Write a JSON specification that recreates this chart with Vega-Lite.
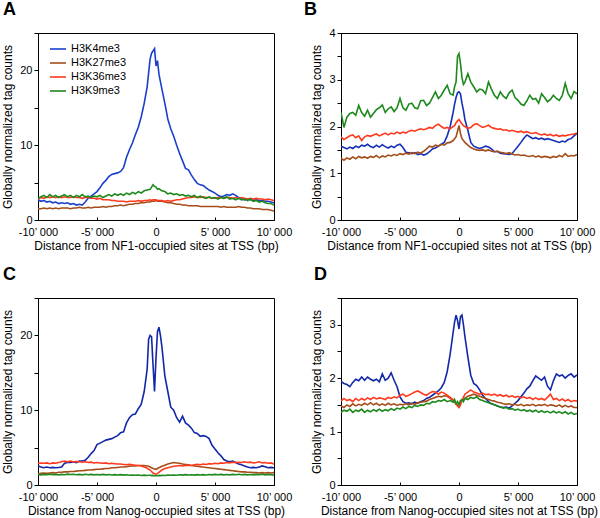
{
"$schema":"https://vega.github.io/schema/vega-lite/v6.json",
"padding":{"left":1,"top":0,"right":5,"bottom":5},
"background":"white",
"config":{
 "font":"Liberation Sans",
 "view":{"stroke":"black","strokeWidth":1},
 "axis":{"grid":false,"domainColor":"black","tickColor":"black","tickSize":4,"labelColor":"black","labelFont":"Liberation Sans","labelFontSize":11,"labelFlush":false,"labelOverlap":false,"labelPadding":2,"titleFont":"Liberation Sans","titleFontSize":12,"titleFontWeight":"normal","titleColor":"black","titlePadding":5},
 "axisX":{"tickSize":-3,"labelPadding":9,"titlePadding":3},
 "title":{"font":"Liberation Sans","fontSize":18,"fontWeight":"bold","color":"black","anchor":"start","frame":"group"},
 "line":{"strokeWidth":1.6}
},
"datasets":{
"A":[
{"x":-10000,"H3K4me3":2.7,"H3K27me3":1.5,"H3K36me3":2.8,"H3K9me3":2.9},
{"x":-9750,"H3K4me3":2.5,"H3K27me3":1.5,"H3K36me3":3.0,"H3K9me3":3.1},
{"x":-9500,"H3K4me3":2.6,"H3K27me3":1.6,"H3K36me3":2.9,"H3K9me3":3.3},
{"x":-9250,"H3K4me3":2.4,"H3K27me3":1.5,"H3K36me3":3.1,"H3K9me3":3.0},
{"x":-9000,"H3K4me3":2.5,"H3K27me3":1.6,"H3K36me3":3.0,"H3K9me3":3.4},
{"x":-8750,"H3K4me3":2.3,"H3K27me3":1.5,"H3K36me3":3.1,"H3K9me3":3.1},
{"x":-8500,"H3K4me3":2.4,"H3K27me3":1.6,"H3K36me3":3.0,"H3K9me3":3.3},
{"x":-8250,"H3K4me3":2.2,"H3K27me3":1.5,"H3K36me3":3.1,"H3K9me3":3.0},
{"x":-8000,"H3K4me3":2.3,"H3K27me3":1.6,"H3K36me3":3.0,"H3K9me3":3.2},
{"x":-7750,"H3K4me3":2.2,"H3K27me3":1.6,"H3K36me3":3.1,"H3K9me3":3.4},
{"x":-7500,"H3K4me3":2.3,"H3K27me3":1.6,"H3K36me3":3.0,"H3K9me3":3.1},
{"x":-7250,"H3K4me3":2.1,"H3K27me3":1.5,"H3K36me3":3.0,"H3K9me3":3.3},
{"x":-7000,"H3K4me3":2.2,"H3K27me3":1.6,"H3K36me3":3.1,"H3K9me3":3.0},
{"x":-6750,"H3K4me3":2.0,"H3K27me3":1.6,"H3K36me3":3.0,"H3K9me3":3.3},
{"x":-6500,"H3K4me3":2.1,"H3K27me3":1.7,"H3K36me3":3.0,"H3K9me3":3.1},
{"x":-6250,"H3K4me3":2.0,"H3K27me3":1.6,"H3K36me3":2.9,"H3K9me3":3.4},
{"x":-6000,"H3K4me3":2.4,"H3K27me3":1.6,"H3K36me3":3.0,"H3K9me3":3.1},
{"x":-5750,"H3K4me3":2.9,"H3K27me3":1.7,"H3K36me3":3.0,"H3K9me3":3.2},
{"x":-5500,"H3K4me3":3.2,"H3K27me3":1.6,"H3K36me3":2.9,"H3K9me3":3.0},
{"x":-5250,"H3K4me3":3.5,"H3K27me3":1.7,"H3K36me3":2.9,"H3K9me3":3.2},
{"x":-5000,"H3K4me3":3.8,"H3K27me3":1.7,"H3K36me3":2.8,"H3K9me3":3.1},
{"x":-4750,"H3K4me3":4.3,"H3K27me3":1.7,"H3K36me3":2.9,"H3K9me3":3.3},
{"x":-4500,"H3K4me3":4.9,"H3K27me3":1.8,"H3K36me3":2.7,"H3K9me3":3.0},
{"x":-4250,"H3K4me3":5.3,"H3K27me3":1.7,"H3K36me3":2.7,"H3K9me3":3.2},
{"x":-4000,"H3K4me3":5.8,"H3K27me3":1.8,"H3K36me3":2.7,"H3K9me3":3.4},
{"x":-3750,"H3K4me3":6.1,"H3K27me3":1.8,"H3K36me3":2.6,"H3K9me3":3.2},
{"x":-3500,"H3K4me3":6.2,"H3K27me3":1.9,"H3K36me3":2.6,"H3K9me3":3.5},
{"x":-3250,"H3K4me3":6.3,"H3K27me3":1.9,"H3K36me3":2.5,"H3K9me3":3.3},
{"x":-3000,"H3K4me3":6.5,"H3K27me3":2.0,"H3K36me3":2.5,"H3K9me3":3.5},
{"x":-2750,"H3K4me3":7.0,"H3K27me3":1.9,"H3K36me3":2.5,"H3K9me3":3.3},
{"x":-2500,"H3K4me3":8.4,"H3K27me3":2.0,"H3K36me3":2.4,"H3K9me3":3.6},
{"x":-2250,"H3K4me3":9.4,"H3K27me3":2.1,"H3K36me3":2.5,"H3K9me3":3.4},
{"x":-2000,"H3K4me3":10.3,"H3K27me3":2.1,"H3K36me3":2.5,"H3K9me3":3.7},
{"x":-1750,"H3K4me3":11.4,"H3K27me3":2.2,"H3K36me3":2.5,"H3K9me3":3.5},
{"x":-1500,"H3K4me3":12.4,"H3K27me3":2.2,"H3K36me3":2.6,"H3K9me3":3.8},
{"x":-1250,"H3K4me3":13.8,"H3K27me3":2.3,"H3K36me3":2.5,"H3K9me3":3.6},
{"x":-1000,"H3K4me3":15.6,"H3K27me3":2.3,"H3K36me3":2.6,"H3K9me3":3.9},
{"x":-750,"H3K4me3":17.8,"H3K27me3":2.4,"H3K36me3":2.6,"H3K9me3":4.0},
{"x":-500,"H3K4me3":21.5,"H3K27me3":2.4,"H3K36me3":2.7,"H3K9me3":4.1},
{"x":-375,"H3K4me3":22.3,"H3K27me3":2.5,"H3K36me3":2.6,"H3K9me3":4.4},
{"x":-250,"H3K4me3":22.6,"H3K27me3":2.5,"H3K36me3":2.7,"H3K9me3":4.7},
{"x":-125,"H3K4me3":22.9,"H3K27me3":2.5,"H3K36me3":2.7,"H3K9me3":4.5},
{"x":0,"H3K4me3":20.6,"H3K27me3":2.6,"H3K36me3":2.7,"H3K9me3":4.4},
{"x":125,"H3K4me3":21.3,"H3K27me3":2.5,"H3K36me3":2.6,"H3K9me3":4.1},
{"x":250,"H3K4me3":19.5,"H3K27me3":2.5,"H3K36me3":2.6,"H3K9me3":4.2},
{"x":500,"H3K4me3":17.5,"H3K27me3":2.5,"H3K36me3":2.6,"H3K9me3":3.9},
{"x":750,"H3K4me3":15.6,"H3K27me3":2.4,"H3K36me3":2.5,"H3K9me3":3.8},
{"x":1000,"H3K4me3":13.5,"H3K27me3":2.3,"H3K36me3":2.6,"H3K9me3":3.5},
{"x":1250,"H3K4me3":12.2,"H3K27me3":2.3,"H3K36me3":2.5,"H3K9me3":3.6},
{"x":1500,"H3K4me3":11.2,"H3K27me3":2.2,"H3K36me3":2.6,"H3K9me3":3.4},
{"x":1750,"H3K4me3":10.0,"H3K27me3":2.1,"H3K36me3":2.7,"H3K9me3":3.5},
{"x":2000,"H3K4me3":8.9,"H3K27me3":2.1,"H3K36me3":2.7,"H3K9me3":3.3},
{"x":2250,"H3K4me3":7.9,"H3K27me3":2.0,"H3K36me3":2.8,"H3K9me3":3.4},
{"x":2500,"H3K4me3":6.9,"H3K27me3":2.0,"H3K36me3":2.9,"H3K9me3":3.2},
{"x":2750,"H3K4me3":6.7,"H3K27me3":1.9,"H3K36me3":3.0,"H3K9me3":3.3},
{"x":3000,"H3K4me3":6.0,"H3K27me3":1.9,"H3K36me3":3.0,"H3K9me3":3.1},
{"x":3250,"H3K4me3":5.4,"H3K27me3":1.9,"H3K36me3":3.1,"H3K9me3":3.3},
{"x":3500,"H3K4me3":4.9,"H3K27me3":1.9,"H3K36me3":3.0,"H3K9me3":3.0},
{"x":3750,"H3K4me3":4.7,"H3K27me3":1.8,"H3K36me3":3.0,"H3K9me3":3.2},
{"x":4000,"H3K4me3":4.6,"H3K27me3":1.8,"H3K36me3":3.1,"H3K9me3":3.0},
{"x":4250,"H3K4me3":4.3,"H3K27me3":1.8,"H3K36me3":3.0,"H3K9me3":2.9},
{"x":4500,"H3K4me3":4.0,"H3K27me3":1.8,"H3K36me3":3.0,"H3K9me3":3.1},
{"x":4750,"H3K4me3":3.8,"H3K27me3":1.8,"H3K36me3":2.9,"H3K9me3":2.9},
{"x":5000,"H3K4me3":3.6,"H3K27me3":1.8,"H3K36me3":2.9,"H3K9me3":3.0},
{"x":5250,"H3K4me3":3.3,"H3K27me3":1.8,"H3K36me3":3.0,"H3K9me3":2.8},
{"x":5500,"H3K4me3":3.1,"H3K27me3":1.7,"H3K36me3":3.0,"H3K9me3":3.0},
{"x":5750,"H3K4me3":3.2,"H3K27me3":1.8,"H3K36me3":2.9,"H3K9me3":2.9},
{"x":6000,"H3K4me3":3.4,"H3K27me3":1.7,"H3K36me3":3.0,"H3K9me3":3.1},
{"x":6250,"H3K4me3":3.3,"H3K27me3":1.7,"H3K36me3":3.0,"H3K9me3":2.8},
{"x":6500,"H3K4me3":3.5,"H3K27me3":1.7,"H3K36me3":2.9,"H3K9me3":2.9},
{"x":6750,"H3K4me3":3.3,"H3K27me3":1.7,"H3K36me3":3.0,"H3K9me3":2.7},
{"x":7000,"H3K4me3":3.0,"H3K27me3":1.8,"H3K36me3":2.9,"H3K9me3":2.9},
{"x":7250,"H3K4me3":2.8,"H3K27me3":1.7,"H3K36me3":3.0,"H3K9me3":2.7},
{"x":7500,"H3K4me3":2.7,"H3K27me3":1.7,"H3K36me3":2.9,"H3K9me3":2.8},
{"x":7750,"H3K4me3":2.8,"H3K27me3":1.6,"H3K36me3":2.8,"H3K9me3":2.6},
{"x":8000,"H3K4me3":2.7,"H3K27me3":1.6,"H3K36me3":2.9,"H3K9me3":2.8},
{"x":8250,"H3K4me3":2.6,"H3K27me3":1.5,"H3K36me3":2.8,"H3K9me3":2.5},
{"x":8500,"H3K4me3":2.7,"H3K27me3":1.5,"H3K36me3":2.9,"H3K9me3":2.6},
{"x":8750,"H3K4me3":2.6,"H3K27me3":1.5,"H3K36me3":2.8,"H3K9me3":2.4},
{"x":9000,"H3K4me3":2.6,"H3K27me3":1.4,"H3K36me3":2.8,"H3K9me3":2.5},
{"x":9250,"H3K4me3":2.5,"H3K27me3":1.4,"H3K36me3":2.7,"H3K9me3":2.3},
{"x":9500,"H3K4me3":2.5,"H3K27me3":1.4,"H3K36me3":2.8,"H3K9me3":2.2},
{"x":9750,"H3K4me3":2.4,"H3K27me3":1.3,"H3K36me3":2.7,"H3K9me3":2.2},
{"x":10000,"H3K4me3":2.3,"H3K27me3":1.2,"H3K36me3":2.6,"H3K9me3":2.0}
],
"B":[
{"x":-10000,"H3K4me3":1.58,"H3K27me3":1.32,"H3K36me3":1.78,"H3K9me3":2.30},
{"x":-9750,"H3K4me3":1.55,"H3K27me3":1.28,"H3K36me3":1.72,"H3K9me3":1.98},
{"x":-9500,"H3K4me3":1.52,"H3K27me3":1.33,"H3K36me3":1.76,"H3K9me3":2.20},
{"x":-9250,"H3K4me3":1.56,"H3K27me3":1.30,"H3K36me3":1.80,"H3K9me3":2.28},
{"x":-9000,"H3K4me3":1.53,"H3K27me3":1.35,"H3K36me3":1.82,"H3K9me3":2.30},
{"x":-8750,"H3K4me3":1.58,"H3K27me3":1.31,"H3K36me3":1.76,"H3K9me3":2.24},
{"x":-8500,"H3K4me3":1.55,"H3K27me3":1.36,"H3K36me3":1.80,"H3K9me3":2.45},
{"x":-8250,"H3K4me3":1.60,"H3K27me3":1.33,"H3K36me3":1.70,"H3K9me3":2.30},
{"x":-8000,"H3K4me3":1.58,"H3K27me3":1.35,"H3K36me3":1.78,"H3K9me3":2.22},
{"x":-7750,"H3K4me3":1.62,"H3K27me3":1.32,"H3K36me3":1.81,"H3K9me3":2.35},
{"x":-7500,"H3K4me3":1.57,"H3K27me3":1.36,"H3K36me3":1.79,"H3K9me3":2.20},
{"x":-7250,"H3K4me3":1.55,"H3K27me3":1.34,"H3K36me3":1.82,"H3K9me3":2.28},
{"x":-7000,"H3K4me3":1.60,"H3K27me3":1.38,"H3K36me3":1.84,"H3K9me3":2.36},
{"x":-6750,"H3K4me3":1.56,"H3K27me3":1.33,"H3K36me3":1.80,"H3K9me3":2.40},
{"x":-6500,"H3K4me3":1.61,"H3K27me3":1.37,"H3K36me3":1.83,"H3K9me3":2.46},
{"x":-6250,"H3K4me3":1.57,"H3K27me3":1.35,"H3K36me3":1.86,"H3K9me3":2.30},
{"x":-6000,"H3K4me3":1.54,"H3K27me3":1.39,"H3K36me3":1.82,"H3K9me3":2.38},
{"x":-5750,"H3K4me3":1.58,"H3K27me3":1.37,"H3K36me3":1.86,"H3K9me3":2.42},
{"x":-5500,"H3K4me3":1.55,"H3K27me3":1.40,"H3K36me3":1.84,"H3K9me3":2.32},
{"x":-5250,"H3K4me3":1.60,"H3K27me3":1.38,"H3K36me3":1.88,"H3K9me3":2.40},
{"x":-5000,"H3K4me3":1.62,"H3K27me3":1.42,"H3K36me3":1.85,"H3K9me3":2.60},
{"x":-4750,"H3K4me3":1.55,"H3K27me3":1.40,"H3K36me3":1.88,"H3K9me3":2.40},
{"x":-4500,"H3K4me3":1.45,"H3K27me3":1.43,"H3K36me3":1.86,"H3K9me3":2.35},
{"x":-4250,"H3K4me3":1.44,"H3K27me3":1.41,"H3K36me3":1.90,"H3K9me3":2.48},
{"x":-4000,"H3K4me3":1.42,"H3K27me3":1.44,"H3K36me3":1.92,"H3K9me3":2.50},
{"x":-3750,"H3K4me3":1.44,"H3K27me3":1.42,"H3K36me3":1.90,"H3K9me3":2.40},
{"x":-3500,"H3K4me3":1.40,"H3K27me3":1.45,"H3K36me3":1.93,"H3K9me3":2.38},
{"x":-3250,"H3K4me3":1.42,"H3K27me3":1.43,"H3K36me3":1.95,"H3K9me3":2.55},
{"x":-3000,"H3K4me3":1.39,"H3K27me3":1.47,"H3K36me3":1.93,"H3K9me3":2.56},
{"x":-2750,"H3K4me3":1.41,"H3K27me3":1.52,"H3K36me3":1.95,"H3K9me3":2.45},
{"x":-2500,"H3K4me3":1.46,"H3K27me3":1.58,"H3K36me3":1.98,"H3K9me3":2.50},
{"x":-2250,"H3K4me3":1.52,"H3K27me3":1.56,"H3K36me3":1.96,"H3K9me3":2.62},
{"x":-2000,"H3K4me3":1.54,"H3K27me3":1.60,"H3K36me3":2.02,"H3K9me3":2.74},
{"x":-1750,"H3K4me3":1.58,"H3K27me3":1.58,"H3K36me3":2.05,"H3K9me3":2.60},
{"x":-1500,"H3K4me3":1.62,"H3K27me3":1.62,"H3K36me3":2.00,"H3K9me3":2.67},
{"x":-1250,"H3K4me3":1.66,"H3K27me3":1.60,"H3K36me3":1.96,"H3K9me3":2.78},
{"x":-1000,"H3K4me3":1.80,"H3K27me3":1.65,"H3K36me3":1.98,"H3K9me3":2.88},
{"x":-750,"H3K4me3":2.00,"H3K27me3":1.66,"H3K36me3":1.95,"H3K9me3":2.70},
{"x":-500,"H3K4me3":2.30,"H3K27me3":1.70,"H3K36me3":2.00,"H3K9me3":2.67},
{"x":-375,"H3K4me3":2.48,"H3K27me3":1.74,"H3K36me3":2.02,"H3K9me3":2.85},
{"x":-250,"H3K4me3":2.62,"H3K27me3":1.78,"H3K36me3":2.08,"H3K9me3":2.95},
{"x":-125,"H3K4me3":2.72,"H3K27me3":1.90,"H3K36me3":2.12,"H3K9me3":3.50},
{"x":0,"H3K4me3":2.74,"H3K27me3":2.02,"H3K36me3":2.15,"H3K9me3":3.56},
{"x":125,"H3K4me3":2.70,"H3K27me3":1.85,"H3K36me3":2.10,"H3K9me3":3.35},
{"x":250,"H3K4me3":2.50,"H3K27me3":1.74,"H3K36me3":2.06,"H3K9me3":3.05},
{"x":375,"H3K4me3":2.35,"H3K27me3":1.70,"H3K36me3":2.02,"H3K9me3":2.90},
{"x":500,"H3K4me3":2.15,"H3K27me3":1.66,"H3K36me3":2.00,"H3K9me3":2.95},
{"x":750,"H3K4me3":1.92,"H3K27me3":1.60,"H3K36me3":1.96,"H3K9me3":3.13},
{"x":1000,"H3K4me3":1.66,"H3K27me3":1.55,"H3K36me3":1.98,"H3K9me3":2.95},
{"x":1250,"H3K4me3":1.58,"H3K27me3":1.52,"H3K36me3":2.04,"H3K9me3":2.85},
{"x":1500,"H3K4me3":1.55,"H3K27me3":1.50,"H3K36me3":2.06,"H3K9me3":2.74},
{"x":1750,"H3K4me3":1.53,"H3K27me3":1.49,"H3K36me3":2.02,"H3K9me3":2.80},
{"x":2000,"H3K4me3":1.55,"H3K27me3":1.50,"H3K36me3":1.98,"H3K9me3":2.78},
{"x":2250,"H3K4me3":1.58,"H3K27me3":1.48,"H3K36me3":2.00,"H3K9me3":2.70},
{"x":2500,"H3K4me3":1.56,"H3K27me3":1.50,"H3K36me3":2.03,"H3K9me3":2.95},
{"x":2750,"H3K4me3":1.52,"H3K27me3":1.47,"H3K36me3":1.98,"H3K9me3":2.80},
{"x":3000,"H3K4me3":1.46,"H3K27me3":1.46,"H3K36me3":1.96,"H3K9me3":2.67},
{"x":3250,"H3K4me3":1.47,"H3K27me3":1.47,"H3K36me3":1.94,"H3K9me3":2.60},
{"x":3500,"H3K4me3":1.43,"H3K27me3":1.45,"H3K36me3":1.95,"H3K9me3":2.74},
{"x":3750,"H3K4me3":1.42,"H3K27me3":1.44,"H3K36me3":1.92,"H3K9me3":2.65},
{"x":4000,"H3K4me3":1.41,"H3K27me3":1.42,"H3K36me3":1.93,"H3K9me3":2.60},
{"x":4250,"H3K4me3":1.40,"H3K27me3":1.44,"H3K36me3":1.90,"H3K9me3":2.72},
{"x":4500,"H3K4me3":1.42,"H3K27me3":1.41,"H3K36me3":1.92,"H3K9me3":2.78},
{"x":4750,"H3K4me3":1.50,"H3K27me3":1.39,"H3K36me3":1.90,"H3K9me3":2.62},
{"x":5000,"H3K4me3":1.58,"H3K27me3":1.40,"H3K36me3":1.88,"H3K9me3":2.56},
{"x":5250,"H3K4me3":1.66,"H3K27me3":1.38,"H3K36me3":1.90,"H3K9me3":2.48},
{"x":5500,"H3K4me3":1.75,"H3K27me3":1.39,"H3K36me3":1.87,"H3K9me3":2.45},
{"x":5750,"H3K4me3":1.82,"H3K27me3":1.37,"H3K36me3":1.89,"H3K9me3":2.55},
{"x":6000,"H3K4me3":1.78,"H3K27me3":1.36,"H3K36me3":1.86,"H3K9me3":2.67},
{"x":6250,"H3K4me3":1.74,"H3K27me3":1.38,"H3K36me3":1.85,"H3K9me3":2.58},
{"x":6500,"H3K4me3":1.76,"H3K27me3":1.35,"H3K36me3":1.87,"H3K9me3":2.60},
{"x":6750,"H3K4me3":1.73,"H3K27me3":1.37,"H3K36me3":1.84,"H3K9me3":2.50},
{"x":7000,"H3K4me3":1.75,"H3K27me3":1.34,"H3K36me3":1.82,"H3K9me3":2.70},
{"x":7250,"H3K4me3":1.72,"H3K27me3":1.36,"H3K36me3":1.84,"H3K9me3":2.62},
{"x":7500,"H3K4me3":1.74,"H3K27me3":1.35,"H3K36me3":1.81,"H3K9me3":2.53},
{"x":7750,"H3K4me3":1.72,"H3K27me3":1.33,"H3K36me3":1.83,"H3K9me3":2.58},
{"x":8000,"H3K4me3":1.70,"H3K27me3":1.36,"H3K36me3":1.80,"H3K9me3":2.67},
{"x":8250,"H3K4me3":1.68,"H3K27me3":1.34,"H3K36me3":1.82,"H3K9me3":2.60},
{"x":8500,"H3K4me3":1.66,"H3K27me3":1.38,"H3K36me3":1.79,"H3K9me3":2.56},
{"x":8750,"H3K4me3":1.69,"H3K27me3":1.35,"H3K36me3":1.81,"H3K9me3":2.66},
{"x":9000,"H3K4me3":1.67,"H3K27me3":1.42,"H3K36me3":1.80,"H3K9me3":2.92},
{"x":9250,"H3K4me3":1.72,"H3K27me3":1.36,"H3K36me3":1.82,"H3K9me3":2.70},
{"x":9500,"H3K4me3":1.74,"H3K27me3":1.38,"H3K36me3":1.83,"H3K9me3":2.60},
{"x":9750,"H3K4me3":1.80,"H3K27me3":1.37,"H3K36me3":1.84,"H3K9me3":2.75},
{"x":10000,"H3K4me3":1.85,"H3K27me3":1.40,"H3K36me3":1.86,"H3K9me3":2.70}
],
"C":[
{"x":-10000,"H3K4me3":2.55,"H3K27me3":1.45,"H3K36me3":2.9,"H3K9me3":1.40},
{"x":-9750,"H3K4me3":2.4,"H3K27me3":1.55,"H3K36me3":2.95,"H3K9me3":1.35},
{"x":-9500,"H3K4me3":2.3,"H3K27me3":1.6,"H3K36me3":2.9,"H3K9me3":1.42},
{"x":-9250,"H3K4me3":2.4,"H3K27me3":1.55,"H3K36me3":2.95,"H3K9me3":1.38},
{"x":-9000,"H3K4me3":2.3,"H3K27me3":1.6,"H3K36me3":2.85,"H3K9me3":1.45},
{"x":-8750,"H3K4me3":2.35,"H3K27me3":1.65,"H3K36me3":2.95,"H3K9me3":1.38},
{"x":-8500,"H3K4me3":2.3,"H3K27me3":1.6,"H3K36me3":2.9,"H3K9me3":1.42},
{"x":-8250,"H3K4me3":2.35,"H3K27me3":1.7,"H3K36me3":3.0,"H3K9me3":1.36},
{"x":-8000,"H3K4me3":2.4,"H3K27me3":1.7,"H3K36me3":3.1,"H3K9me3":1.42},
{"x":-7750,"H3K4me3":2.9,"H3K27me3":1.75,"H3K36me3":3.2,"H3K9me3":1.38},
{"x":-7500,"H3K4me3":3.0,"H3K27me3":1.75,"H3K36me3":3.1,"H3K9me3":1.45},
{"x":-7250,"H3K4me3":3.0,"H3K27me3":1.8,"H3K36me3":3.2,"H3K9me3":1.40},
{"x":-7000,"H3K4me3":3.1,"H3K27me3":1.8,"H3K36me3":3.1,"H3K9me3":1.44},
{"x":-6750,"H3K4me3":3.0,"H3K27me3":1.85,"H3K36me3":3.15,"H3K9me3":1.38},
{"x":-6500,"H3K4me3":3.2,"H3K27me3":1.9,"H3K36me3":3.1,"H3K9me3":1.42},
{"x":-6250,"H3K4me3":3.2,"H3K27me3":1.9,"H3K36me3":3.05,"H3K9me3":1.36},
{"x":-6000,"H3K4me3":3.3,"H3K27me3":1.95,"H3K36me3":3.1,"H3K9me3":1.44},
{"x":-5750,"H3K4me3":3.7,"H3K27me3":2.0,"H3K36me3":3.0,"H3K9me3":1.38},
{"x":-5500,"H3K4me3":4.2,"H3K27me3":2.0,"H3K36me3":3.05,"H3K9me3":1.42},
{"x":-5250,"H3K4me3":4.6,"H3K27me3":2.05,"H3K36me3":2.95,"H3K9me3":1.36},
{"x":-5000,"H3K4me3":5.4,"H3K27me3":2.1,"H3K36me3":3.0,"H3K9me3":1.40},
{"x":-4750,"H3K4me3":5.6,"H3K27me3":2.1,"H3K36me3":2.95,"H3K9me3":1.36},
{"x":-4500,"H3K4me3":5.8,"H3K27me3":2.15,"H3K36me3":2.9,"H3K9me3":1.42},
{"x":-4250,"H3K4me3":6.0,"H3K27me3":2.2,"H3K36me3":2.95,"H3K9me3":1.36},
{"x":-4000,"H3K4me3":6.1,"H3K27me3":2.2,"H3K36me3":2.85,"H3K9me3":1.40},
{"x":-3750,"H3K4me3":6.2,"H3K27me3":2.3,"H3K36me3":2.9,"H3K9me3":1.34},
{"x":-3500,"H3K4me3":6.4,"H3K27me3":2.3,"H3K36me3":2.85,"H3K9me3":1.38},
{"x":-3250,"H3K4me3":6.6,"H3K27me3":2.35,"H3K36me3":2.8,"H3K9me3":1.33},
{"x":-3000,"H3K4me3":7.0,"H3K27me3":2.4,"H3K36me3":2.8,"H3K9me3":1.38},
{"x":-2750,"H3K4me3":7.1,"H3K27me3":2.4,"H3K36me3":2.75,"H3K9me3":1.32},
{"x":-2500,"H3K4me3":8.3,"H3K27me3":2.45,"H3K36me3":2.7,"H3K9me3":1.36},
{"x":-2250,"H3K4me3":9.0,"H3K27me3":2.5,"H3K36me3":2.75,"H3K9me3":1.30},
{"x":-2000,"H3K4me3":9.4,"H3K27me3":2.55,"H3K36me3":2.7,"H3K9me3":1.34},
{"x":-1750,"H3K4me3":9.5,"H3K27me3":2.55,"H3K36me3":2.65,"H3K9me3":1.30},
{"x":-1500,"H3K4me3":10.2,"H3K27me3":2.6,"H3K36me3":2.6,"H3K9me3":1.34},
{"x":-1250,"H3K4me3":10.8,"H3K27me3":2.6,"H3K36me3":2.55,"H3K9me3":1.28},
{"x":-1000,"H3K4me3":12.5,"H3K27me3":2.6,"H3K36me3":2.4,"H3K9me3":1.32},
{"x":-750,"H3K4me3":15.5,"H3K27me3":2.55,"H3K36me3":2.25,"H3K9me3":1.28},
{"x":-625,"H3K4me3":19.5,"H3K27me3":2.5,"H3K36me3":2.1,"H3K9me3":1.30},
{"x":-500,"H3K4me3":20.0,"H3K27me3":2.4,"H3K36me3":2.0,"H3K9me3":1.30},
{"x":-375,"H3K4me3":19.8,"H3K27me3":2.3,"H3K36me3":1.8,"H3K9me3":1.25},
{"x":-250,"H3K4me3":16.0,"H3K27me3":2.2,"H3K36me3":1.6,"H3K9me3":1.28},
{"x":-125,"H3K4me3":12.5,"H3K27me3":2.15,"H3K36me3":1.5,"H3K9me3":1.24},
{"x":0,"H3K4me3":17.0,"H3K27me3":2.1,"H3K36me3":1.45,"H3K9me3":1.26},
{"x":125,"H3K4me3":20.5,"H3K27me3":2.2,"H3K36me3":1.55,"H3K9me3":1.24},
{"x":250,"H3K4me3":21.1,"H3K27me3":2.3,"H3K36me3":1.7,"H3K9me3":1.28},
{"x":375,"H3K4me3":20.0,"H3K27me3":2.4,"H3K36me3":1.85,"H3K9me3":1.25},
{"x":500,"H3K4me3":18.5,"H3K27me3":2.5,"H3K36me3":2.0,"H3K9me3":1.30},
{"x":750,"H3K4me3":14.6,"H3K27me3":2.65,"H3K36me3":2.2,"H3K9me3":1.28},
{"x":1000,"H3K4me3":12.5,"H3K27me3":2.8,"H3K36me3":2.3,"H3K9me3":1.32},
{"x":1250,"H3K4me3":10.4,"H3K27me3":2.9,"H3K36me3":2.4,"H3K9me3":1.30},
{"x":1500,"H3K4me3":10.0,"H3K27me3":3.0,"H3K36me3":2.5,"H3K9me3":1.34},
{"x":1750,"H3K4me3":9.0,"H3K27me3":2.95,"H3K36me3":2.55,"H3K9me3":1.30},
{"x":2000,"H3K4me3":8.4,"H3K27me3":2.9,"H3K36me3":2.6,"H3K9me3":1.36},
{"x":2250,"H3K4me3":9.2,"H3K27me3":2.8,"H3K36me3":2.55,"H3K9me3":1.32},
{"x":2500,"H3K4me3":8.3,"H3K27me3":2.75,"H3K36me3":2.6,"H3K9me3":1.38},
{"x":2750,"H3K4me3":8.0,"H3K27me3":2.7,"H3K36me3":2.65,"H3K9me3":1.33},
{"x":3000,"H3K4me3":7.6,"H3K27me3":2.6,"H3K36me3":2.6,"H3K9me3":1.36},
{"x":3250,"H3K4me3":7.0,"H3K27me3":2.55,"H3K36me3":2.7,"H3K9me3":1.32},
{"x":3500,"H3K4me3":6.9,"H3K27me3":2.5,"H3K36me3":2.75,"H3K9me3":1.38},
{"x":3750,"H3K4me3":6.5,"H3K27me3":2.45,"H3K36me3":2.7,"H3K9me3":1.34},
{"x":4000,"H3K4me3":6.6,"H3K27me3":2.4,"H3K36me3":2.8,"H3K9me3":1.38},
{"x":4250,"H3K4me3":6.5,"H3K27me3":2.35,"H3K36me3":2.75,"H3K9me3":1.33},
{"x":4500,"H3K4me3":6.2,"H3K27me3":2.3,"H3K36me3":2.85,"H3K9me3":1.40},
{"x":4750,"H3K4me3":5.3,"H3K27me3":2.25,"H3K36me3":2.8,"H3K9me3":1.36},
{"x":5000,"H3K4me3":4.8,"H3K27me3":2.2,"H3K36me3":2.9,"H3K9me3":1.42},
{"x":5250,"H3K4me3":4.3,"H3K27me3":2.15,"H3K36me3":2.85,"H3K9me3":1.38},
{"x":5500,"H3K4me3":3.9,"H3K27me3":2.1,"H3K36me3":2.95,"H3K9me3":1.42},
{"x":5750,"H3K4me3":3.4,"H3K27me3":2.05,"H3K36me3":2.9,"H3K9me3":1.36},
{"x":6000,"H3K4me3":3.2,"H3K27me3":2.0,"H3K36me3":3.0,"H3K9me3":1.40},
{"x":6250,"H3K4me3":3.1,"H3K27me3":1.95,"H3K36me3":2.95,"H3K9me3":1.36},
{"x":6500,"H3K4me3":3.2,"H3K27me3":1.9,"H3K36me3":3.05,"H3K9me3":1.42},
{"x":6750,"H3K4me3":3.0,"H3K27me3":1.85,"H3K36me3":3.0,"H3K9me3":1.38},
{"x":7000,"H3K4me3":2.8,"H3K27me3":1.8,"H3K36me3":3.05,"H3K9me3":1.44},
{"x":7250,"H3K4me3":2.7,"H3K27me3":1.75,"H3K36me3":3.0,"H3K9me3":1.38},
{"x":7500,"H3K4me3":2.55,"H3K27me3":1.75,"H3K36me3":3.1,"H3K9me3":1.42},
{"x":7750,"H3K4me3":2.4,"H3K27me3":1.7,"H3K36me3":3.0,"H3K9me3":1.36},
{"x":8000,"H3K4me3":2.3,"H3K27me3":1.7,"H3K36me3":3.05,"H3K9me3":1.40},
{"x":8250,"H3K4me3":2.35,"H3K27me3":1.65,"H3K36me3":2.95,"H3K9me3":1.36},
{"x":8500,"H3K4me3":2.3,"H3K27me3":1.65,"H3K36me3":3.0,"H3K9me3":1.42},
{"x":8750,"H3K4me3":2.4,"H3K27me3":1.6,"H3K36me3":3.1,"H3K9me3":1.38},
{"x":9000,"H3K4me3":2.55,"H3K27me3":1.65,"H3K36me3":2.95,"H3K9me3":1.44},
{"x":9250,"H3K4me3":2.45,"H3K27me3":1.6,"H3K36me3":3.0,"H3K9me3":1.36},
{"x":9500,"H3K4me3":2.3,"H3K27me3":1.65,"H3K36me3":2.9,"H3K9me3":1.40},
{"x":9750,"H3K4me3":2.35,"H3K27me3":1.6,"H3K36me3":2.95,"H3K9me3":1.36},
{"x":10000,"H3K4me3":2.3,"H3K27me3":1.65,"H3K36me3":2.8,"H3K9me3":1.32}
],
"D":[
{"x":-10000,"H3K4me3":1.94,"H3K27me3":1.48,"H3K36me3":1.57,"H3K9me3":1.36},
{"x":-9750,"H3K4me3":1.90,"H3K27me3":1.45,"H3K36me3":1.62,"H3K9me3":1.40},
{"x":-9500,"H3K4me3":1.88,"H3K27me3":1.50,"H3K36me3":1.58,"H3K9me3":1.38},
{"x":-9250,"H3K4me3":1.84,"H3K27me3":1.47,"H3K36me3":1.60,"H3K9me3":1.42},
{"x":-9000,"H3K4me3":1.92,"H3K27me3":1.52,"H3K36me3":1.56,"H3K9me3":1.36},
{"x":-8750,"H3K4me3":1.98,"H3K27me3":1.48,"H3K36me3":1.62,"H3K9me3":1.40},
{"x":-8500,"H3K4me3":1.95,"H3K27me3":1.51,"H3K36me3":1.58,"H3K9me3":1.38},
{"x":-8250,"H3K4me3":2.02,"H3K27me3":1.49,"H3K36me3":1.62,"H3K9me3":1.42},
{"x":-8000,"H3K4me3":1.96,"H3K27me3":1.53,"H3K36me3":1.59,"H3K9me3":1.36},
{"x":-7750,"H3K4me3":2.02,"H3K27me3":1.50,"H3K36me3":1.63,"H3K9me3":1.40},
{"x":-7500,"H3K4me3":1.98,"H3K27me3":1.54,"H3K36me3":1.60,"H3K9me3":1.37},
{"x":-7250,"H3K4me3":1.95,"H3K27me3":1.50,"H3K36me3":1.64,"H3K9me3":1.41},
{"x":-7000,"H3K4me3":1.98,"H3K27me3":1.53,"H3K36me3":1.61,"H3K9me3":1.38},
{"x":-6750,"H3K4me3":1.93,"H3K27me3":1.49,"H3K36me3":1.63,"H3K9me3":1.42},
{"x":-6500,"H3K4me3":2.08,"H3K27me3":1.52,"H3K36me3":1.62,"H3K9me3":1.38},
{"x":-6250,"H3K4me3":1.96,"H3K27me3":1.49,"H3K36me3":1.60,"H3K9me3":1.41},
{"x":-6000,"H3K4me3":2.00,"H3K27me3":1.53,"H3K36me3":1.64,"H3K9me3":1.39},
{"x":-5750,"H3K4me3":2.10,"H3K27me3":1.50,"H3K36me3":1.62,"H3K9me3":1.43},
{"x":-5500,"H3K4me3":1.96,"H3K27me3":1.52,"H3K36me3":1.65,"H3K9me3":1.40},
{"x":-5250,"H3K4me3":1.84,"H3K27me3":1.49,"H3K36me3":1.63,"H3K9me3":1.44},
{"x":-5000,"H3K4me3":1.65,"H3K27me3":1.51,"H3K36me3":1.68,"H3K9me3":1.42},
{"x":-4750,"H3K4me3":1.56,"H3K27me3":1.50,"H3K36me3":1.70,"H3K9me3":1.46},
{"x":-4500,"H3K4me3":1.53,"H3K27me3":1.52,"H3K36me3":1.66,"H3K9me3":1.43},
{"x":-4250,"H3K4me3":1.54,"H3K27me3":1.50,"H3K36me3":1.68,"H3K9me3":1.47},
{"x":-4000,"H3K4me3":1.52,"H3K27me3":1.53,"H3K36me3":1.71,"H3K9me3":1.45},
{"x":-3750,"H3K4me3":1.55,"H3K27me3":1.51,"H3K36me3":1.74,"H3K9me3":1.49},
{"x":-3500,"H3K4me3":1.53,"H3K27me3":1.54,"H3K36me3":1.76,"H3K9me3":1.47},
{"x":-3250,"H3K4me3":1.56,"H3K27me3":1.55,"H3K36me3":1.73,"H3K9me3":1.50},
{"x":-3000,"H3K4me3":1.58,"H3K27me3":1.56,"H3K36me3":1.70,"H3K9me3":1.49},
{"x":-2750,"H3K4me3":1.62,"H3K27me3":1.57,"H3K36me3":1.68,"H3K9me3":1.53},
{"x":-2500,"H3K4me3":1.64,"H3K27me3":1.60,"H3K36me3":1.72,"H3K9me3":1.52},
{"x":-2250,"H3K4me3":1.68,"H3K27me3":1.62,"H3K36me3":1.75,"H3K9me3":1.56},
{"x":-2000,"H3K4me3":1.72,"H3K27me3":1.64,"H3K36me3":1.74,"H3K9me3":1.55},
{"x":-1750,"H3K4me3":1.76,"H3K27me3":1.66,"H3K36me3":1.70,"H3K9me3":1.58},
{"x":-1500,"H3K4me3":1.82,"H3K27me3":1.65,"H3K36me3":1.74,"H3K9me3":1.57},
{"x":-1250,"H3K4me3":1.92,"H3K27me3":1.67,"H3K36me3":1.72,"H3K9me3":1.60},
{"x":-1000,"H3K4me3":2.12,"H3K27me3":1.66,"H3K36me3":1.68,"H3K9me3":1.56},
{"x":-750,"H3K4me3":2.45,"H3K27me3":1.62,"H3K36me3":1.64,"H3K9me3":1.58},
{"x":-500,"H3K4me3":2.85,"H3K27me3":1.58,"H3K36me3":1.60,"H3K9me3":1.55},
{"x":-375,"H3K4me3":3.05,"H3K27me3":1.55,"H3K36me3":1.56,"H3K9me3":1.60},
{"x":-250,"H3K4me3":3.18,"H3K27me3":1.52,"H3K36me3":1.52,"H3K9me3":1.52},
{"x":-125,"H3K4me3":3.08,"H3K27me3":1.50,"H3K36me3":1.48,"H3K9me3":1.56},
{"x":0,"H3K4me3":2.92,"H3K27me3":1.50,"H3K36me3":1.45,"H3K9me3":1.50},
{"x":125,"H3K4me3":3.15,"H3K27me3":1.54,"H3K36me3":1.50,"H3K9me3":1.58},
{"x":250,"H3K4me3":3.18,"H3K27me3":1.58,"H3K36me3":1.58,"H3K9me3":1.60},
{"x":375,"H3K4me3":3.00,"H3K27me3":1.60,"H3K36me3":1.64,"H3K9me3":1.56},
{"x":500,"H3K4me3":2.78,"H3K27me3":1.62,"H3K36me3":1.70,"H3K9me3":1.62},
{"x":750,"H3K4me3":2.40,"H3K27me3":1.66,"H3K36me3":1.74,"H3K9me3":1.60},
{"x":1000,"H3K4me3":2.05,"H3K27me3":1.68,"H3K36me3":1.78,"H3K9me3":1.64},
{"x":1250,"H3K4me3":1.90,"H3K27me3":1.70,"H3K36me3":1.74,"H3K9me3":1.62},
{"x":1500,"H3K4me3":1.86,"H3K27me3":1.68,"H3K36me3":1.72,"H3K9me3":1.65},
{"x":1750,"H3K4me3":1.78,"H3K27me3":1.66,"H3K36me3":1.70,"H3K9me3":1.60},
{"x":2000,"H3K4me3":1.68,"H3K27me3":1.64,"H3K36me3":1.72,"H3K9me3":1.58},
{"x":2250,"H3K4me3":1.62,"H3K27me3":1.62,"H3K36me3":1.69,"H3K9me3":1.56},
{"x":2500,"H3K4me3":1.56,"H3K27me3":1.60,"H3K36me3":1.70,"H3K9me3":1.54},
{"x":2750,"H3K4me3":1.52,"H3K27me3":1.58,"H3K36me3":1.68,"H3K9me3":1.52},
{"x":3000,"H3K4me3":1.50,"H3K27me3":1.57,"H3K36me3":1.70,"H3K9me3":1.50},
{"x":3250,"H3K4me3":1.48,"H3K27me3":1.55,"H3K36me3":1.67,"H3K9me3":1.48},
{"x":3500,"H3K4me3":1.46,"H3K27me3":1.54,"H3K36me3":1.69,"H3K9me3":1.46},
{"x":3750,"H3K4me3":1.45,"H3K27me3":1.52,"H3K36me3":1.66,"H3K9me3":1.44},
{"x":4000,"H3K4me3":1.46,"H3K27me3":1.51,"H3K36me3":1.68,"H3K9me3":1.45},
{"x":4250,"H3K4me3":1.44,"H3K27me3":1.52,"H3K36me3":1.65,"H3K9me3":1.42},
{"x":4500,"H3K4me3":1.48,"H3K27me3":1.50,"H3K36me3":1.67,"H3K9me3":1.43},
{"x":4750,"H3K4me3":1.53,"H3K27me3":1.51,"H3K36me3":1.64,"H3K9me3":1.40},
{"x":5000,"H3K4me3":1.58,"H3K27me3":1.49,"H3K36me3":1.66,"H3K9me3":1.42},
{"x":5250,"H3K4me3":1.65,"H3K27me3":1.51,"H3K36me3":1.63,"H3K9me3":1.39},
{"x":5500,"H3K4me3":1.72,"H3K27me3":1.48,"H3K36me3":1.65,"H3K9me3":1.41},
{"x":5750,"H3K4me3":1.80,"H3K27me3":1.50,"H3K36me3":1.62,"H3K9me3":1.38},
{"x":6000,"H3K4me3":1.85,"H3K27me3":1.49,"H3K36me3":1.64,"H3K9me3":1.40},
{"x":6250,"H3K4me3":1.95,"H3K27me3":1.51,"H3K36me3":1.60,"H3K9me3":1.37},
{"x":6500,"H3K4me3":2.04,"H3K27me3":1.48,"H3K36me3":1.63,"H3K9me3":1.40},
{"x":6750,"H3K4me3":2.00,"H3K27me3":1.50,"H3K36me3":1.60,"H3K9me3":1.36},
{"x":7000,"H3K4me3":1.96,"H3K27me3":1.49,"H3K36me3":1.62,"H3K9me3":1.39},
{"x":7250,"H3K4me3":2.02,"H3K27me3":1.51,"H3K36me3":1.59,"H3K9me3":1.36},
{"x":7500,"H3K4me3":1.85,"H3K27me3":1.48,"H3K36me3":1.64,"H3K9me3":1.38},
{"x":7750,"H3K4me3":1.78,"H3K27me3":1.50,"H3K36me3":1.70,"H3K9me3":1.35},
{"x":8000,"H3K4me3":1.95,"H3K27me3":1.49,"H3K36me3":1.60,"H3K9me3":1.38},
{"x":8250,"H3K4me3":2.08,"H3K27me3":1.47,"H3K36me3":1.62,"H3K9me3":1.35},
{"x":8500,"H3K4me3":2.04,"H3K27me3":1.50,"H3K36me3":1.58,"H3K9me3":1.37},
{"x":8750,"H3K4me3":2.06,"H3K27me3":1.46,"H3K36me3":1.61,"H3K9me3":1.34},
{"x":9000,"H3K4me3":2.00,"H3K27me3":1.49,"H3K36me3":1.57,"H3K9me3":1.37},
{"x":9250,"H3K4me3":2.05,"H3K27me3":1.46,"H3K36me3":1.60,"H3K9me3":1.33},
{"x":9500,"H3K4me3":2.08,"H3K27me3":1.48,"H3K36me3":1.56,"H3K9me3":1.36},
{"x":9750,"H3K4me3":2.02,"H3K27me3":1.45,"H3K36me3":1.58,"H3K9me3":1.32},
{"x":10000,"H3K4me3":2.06,"H3K27me3":1.45,"H3K36me3":1.57,"H3K9me3":1.34}
]
},
"columns":2,
"bounds":"flush",
"spacing":{"row":78,"column":67},
"resolve":{"scale":{"color":"independent"},"legend":{"color":"independent"}},
"concat":[
{"width":236,"height":187,"data":{"name":"A"},
 "title":{"text":"A","dx":-35,"offset":8},
 "transform":[{"fold":["H3K4me3","H3K27me3","H3K36me3","H3K9me3"],"as":["series","y"]}],
 "mark":{"type":"line","clip":true},
 "encoding":{
  "x":{"field":"x","type":"quantitative","scale":{"domain":[-10000,10000],"nice":false},"axis":{"values":[-10000,-5000,0,5000,10000],"labelExpr":"datum.value == 0 ? '0' : (datum.value < 0 ? '-' : '') + abs(datum.value)/1000 + '’ 000'","title":"Distance from NF1-occupied sites at TSS (bp)"}},
  "y":{"field":"y","type":"quantitative","scale":{"domain":[0,25],"nice":false},"axis":{"values":[0,5,10,15,20,25],"labelExpr":"datum.value % 10 == 0 ? '' + datum.value : ''","title":"Globally normalized tag counts"}},
  "color":{"field":"series","type":"nominal","scale":{"domain":["H3K4me3","H3K27me3","H3K36me3","H3K9me3"],"range":["#1a40cc","#a54e1a","#ff3a1e","#1e8a1e"]},
   "legend":{"title":null,"orient":"top-left","offset":7,"padding":0,"symbolOffset":4,"symbolType":"stroke","symbolSize":256,"symbolStrokeWidth":2,"labelFontSize":11,"labelColor":"black","rowPadding":-2,"labelOffset":4}}
 }},
{"width":236,"height":187,"data":{"name":"B"},
 "title":{"text":"B","dx":-37,"offset":8},
 "transform":[{"fold":["H3K4me3","H3K27me3","H3K36me3","H3K9me3"],"as":["series","y"]}],
 "mark":{"type":"line","clip":true},
 "encoding":{
  "x":{"field":"x","type":"quantitative","scale":{"domain":[-10000,10000],"nice":false},"axis":{"values":[-10000,-5000,0,5000,10000],"labelExpr":"datum.value == 0 ? '0' : (datum.value < 0 ? '-' : '') + abs(datum.value)/1000 + '’ 000'","title":"Distance from NF1-occupied sites not at TSS (bp)"}},
  "y":{"field":"y","type":"quantitative","scale":{"domain":[0,4],"nice":false},"axis":{"values":[0,0.5,1,1.5,2,2.5,3,3.5,4],"labelExpr":"datum.value % 1 == 0 ? '' + datum.value : ''","title":"Globally normalized tag counts"}},
  "color":{"field":"series","type":"nominal","scale":{"domain":["H3K4me3","H3K27me3","H3K36me3","H3K9me3"],"range":["#1530b8","#a54e1a","#ff3a1e","#1e8a1e"]},"legend":null}
 }},
{"width":236,"height":187,"data":{"name":"C"},
 "title":{"text":"C","dx":-35,"offset":8},
 "transform":[{"fold":["H3K4me3","H3K27me3","H3K36me3","H3K9me3"],"as":["series","y"]}],
 "mark":{"type":"line","clip":true},
 "encoding":{
  "x":{"field":"x","type":"quantitative","scale":{"domain":[-10000,10000],"nice":false},"axis":{"values":[-10000,-5000,0,5000,10000],"labelExpr":"datum.value == 0 ? '0' : (datum.value < 0 ? '-' : '') + abs(datum.value)/1000 + '’ 000'","title":"Distance from Nanog-occupied sites at TSS (bp)"}},
  "y":{"field":"y","type":"quantitative","scale":{"domain":[0,25],"nice":false},"axis":{"values":[0,5,10,15,20,25],"labelExpr":"datum.value % 10 == 0 ? '' + datum.value : ''","title":"Globally normalized tag counts"}},
  "color":{"field":"series","type":"nominal","scale":{"domain":["H3K4me3","H3K27me3","H3K36me3","H3K9me3"],"range":["#1228a8","#a54e1a","#ff3a1e","#1e8a1e"]},"legend":null}
 }},
{"width":236,"height":187,"data":{"name":"D"},
 "title":{"text":"D","dx":-27,"offset":8},
 "transform":[{"fold":["H3K4me3","H3K27me3","H3K36me3","H3K9me3"],"as":["series","y"]}],
 "mark":{"type":"line","clip":true},
 "encoding":{
  "x":{"field":"x","type":"quantitative","scale":{"domain":[-10000,10000],"nice":false},"axis":{"values":[-10000,-5000,0,5000,10000],"labelExpr":"datum.value == 0 ? '0' : (datum.value < 0 ? '-' : '') + abs(datum.value)/1000 + '’ 000'","title":"Distance from Nanog-occupied sites not at TSS (bp)"}},
  "y":{"field":"y","type":"quantitative","scale":{"domain":[0,3.5],"nice":false},"axis":{"values":[0,0.5,1,1.5,2,2.5,3,3.5],"labelExpr":"datum.value % 1 == 0 ? '' + datum.value : ''","title":"Globally normalized tag counts"}},
  "color":{"field":"series","type":"nominal","scale":{"domain":["H3K4me3","H3K27me3","H3K36me3","H3K9me3"],"range":["#1228a8","#a54e1a","#ff3a1e","#1e8a1e"]},"legend":null}
 }}
]
}
